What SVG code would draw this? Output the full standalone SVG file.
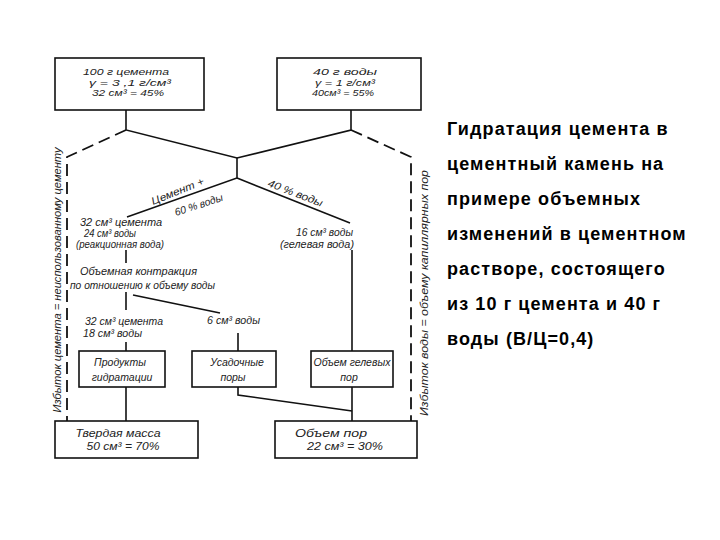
<svg xmlns="http://www.w3.org/2000/svg" width="720" height="540" viewBox="0 0 720 540">
<style>
.box{fill:#fff;stroke:#111;stroke-width:1.6}
.ln{fill:none;stroke:#111;stroke-width:1.6}
.dash{fill:none;stroke:#111;stroke-width:1.8;stroke-dasharray:12 6}
.h{font-family:"Liberation Sans",Arial,sans-serif;font-style:italic;font-size:10.5px;fill:#222}
.hc{font-family:"Liberation Sans",Arial,sans-serif;font-style:italic;font-size:10.5px;fill:#222;text-anchor:middle}
.s{font-size:9.5px}
.t{font-family:"Liberation Sans",Arial,sans-serif;font-weight:bold;font-size:18px;letter-spacing:1.1px;fill:#000}
</style>
<rect width="720" height="540" fill="#fff"/>
<g id="connectors">
<path class="ln" d="M126,110 V130 L237,158 L351,130 V110"/>
<path class="ln" d="M237,158 V178 L127,217"/>
<path class="ln" d="M237,178 L350,223"/>
<path class="ln" d="M352,250 V351"/>
<path class="ln" d="M352,387 V421"/>
<path class="ln" d="M126,250 V263"/>
<path class="ln" d="M126,292 V310"/>
<path class="ln" d="M126,342 V351"/>
<path class="ln" d="M126,387 V421"/>
<path class="ln" d="M133,295 L220,313"/>
<path class="ln" d="M238,333 V351"/>
<path class="ln" d="M238,387 V395 L352,411"/>
<path class="dash" d="M126,130 L67,157 V421"/>
<path class="dash" d="M351,130 L411,157 V421"/>
</g>
<g id="cement">
<rect class="box" x="55" y="58" width="149" height="52"/>
<text class="hc s" x="126" y="75" textLength="86" lengthAdjust="spacingAndGlyphs">100 г  цемента</text>
<text class="hc s" x="130" y="85.5" textLength="82" lengthAdjust="spacingAndGlyphs">γ = 3 ,1 г/см³</text>
<text class="hc s" x="128" y="96" textLength="72" lengthAdjust="spacingAndGlyphs">32 см³ = 45%</text>
</g>
<g id="water">
<rect class="box" x="277" y="58" width="144" height="52"/>
<text class="hc s" x="345" y="75" textLength="64" lengthAdjust="spacingAndGlyphs">40 г  воды</text>
<text class="hc s" x="345" y="85.5" textLength="60" lengthAdjust="spacingAndGlyphs">γ = 1 г/см³</text>
<text class="hc s" x="343" y="96" textLength="62" lengthAdjust="spacingAndGlyphs">40см³ = 55%</text>
</g>
<g id="labels">
<text class="h" transform="translate(153,205) rotate(-22)" textLength="56" lengthAdjust="spacingAndGlyphs">Цемент +</text>
<text class="h" transform="translate(176,216) rotate(-18)" textLength="50" lengthAdjust="spacingAndGlyphs">60 % воды</text>
<text class="h" transform="translate(267,186) rotate(21)" textLength="58" lengthAdjust="spacingAndGlyphs">40 %  воды</text>
<text class="hc" x="121" y="226" textLength="82" lengthAdjust="spacingAndGlyphs">32 см³ цемента</text>
<text class="h" x="84" y="237" textLength="52" lengthAdjust="spacingAndGlyphs">24 см³  воды</text>
<text class="h" x="76" y="248" textLength="88" lengthAdjust="spacingAndGlyphs">(реакционная  вода)</text>
<text class="h" x="296" y="236" textLength="57" lengthAdjust="spacingAndGlyphs">16 см³ воды</text>
<text class="h" x="280" y="248" textLength="74" lengthAdjust="spacingAndGlyphs">(гелевая вода)</text>
<text class="h" x="80" y="275" textLength="117" lengthAdjust="spacingAndGlyphs">Объемная  контракция</text>
<text class="h" x="70" y="289" textLength="145" lengthAdjust="spacingAndGlyphs">по отношению  к объему воды</text>
<text class="h" x="85" y="325" textLength="78" lengthAdjust="spacingAndGlyphs">32 см³ цемента</text>
<text class="h" x="83" y="337" textLength="59" lengthAdjust="spacingAndGlyphs">18 см³ воды</text>
<text class="h" x="207" y="324" textLength="53" lengthAdjust="spacingAndGlyphs">6 см³ воды</text>
</g>
<g id="products">
<rect class="box" x="79" y="351" width="86" height="36"/>
<text class="hc" x="120" y="366">Продукты</text>
<text class="hc" x="122" y="381">гидратации</text>
</g>
<g id="shrinkage">
<rect class="box" x="192" y="351" width="84" height="36"/>
<text class="hc" x="237" y="366">Усадочные</text>
<text class="hc" x="233" y="381">поры</text>
</g>
<g id="gelpores">
<rect class="box" x="311" y="351" width="82" height="36"/>
<text class="hc" x="352" y="366">Объем  гелевых</text>
<text class="hc" x="349" y="381">пор</text>
</g>
<g id="solid">
<rect class="box" x="55" y="421" width="143" height="37"/>
<text class="hc" x="118" y="437" textLength="85" lengthAdjust="spacingAndGlyphs">Твердая  масса</text>
<text class="hc" x="123" y="450" textLength="73" lengthAdjust="spacingAndGlyphs">50 см³ = 70%</text>
</g>
<g id="pores">
<rect class="box" x="275" y="421" width="142" height="37"/>
<text class="hc" x="331" y="437" textLength="72" lengthAdjust="spacingAndGlyphs">Объем  пор</text>
<text class="hc" x="345" y="450" textLength="76" lengthAdjust="spacingAndGlyphs">22 см³ =  30%</text>
</g>
<g id="side-labels">
<text class="hc" transform="translate(61,280) rotate(-90)" textLength="265" lengthAdjust="spacingAndGlyphs">Избыток  цемента = неиспользованному  цементу</text>
<text class="hc" transform="translate(428,293) rotate(-90)" textLength="246" lengthAdjust="spacingAndGlyphs">Избыток  воды = объему  капиллярных  пор</text>
</g>
<g id="caption">
<text class="t" x="447" y="135">Гидратация цемента в</text>
<text class="t" x="447" y="170">цементный камень на</text>
<text class="t" x="447" y="205">примере объемных</text>
<text class="t" x="447" y="240">изменений в цементном</text>
<text class="t" x="447" y="275">растворе, состоящего</text>
<text class="t" x="447" y="310">из 10 г цемента и 40 г</text>
<text class="t" x="447" y="345">воды (В/Ц=0,4)</text>
</g>
</svg>
